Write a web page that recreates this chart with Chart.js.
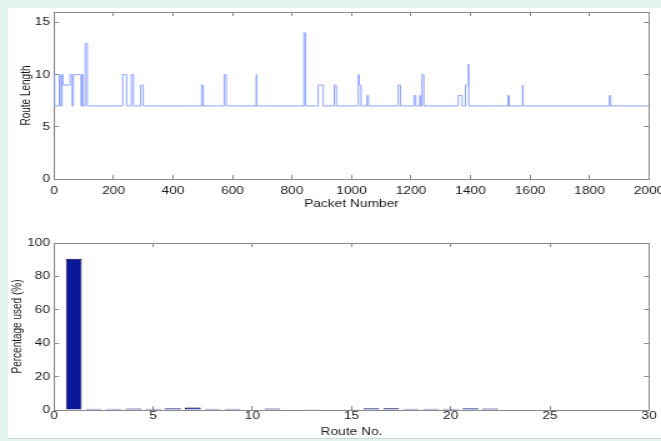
<!DOCTYPE html>
<html>
<head>
<meta charset="utf-8">
<script src="https://cdn.jsdelivr.net/npm/chart.js@4"></script>
<style>
    html, body { margin: 0; padding: 0; }
    body { width: 661px; height: 441px; background: #e2f5ef; position: relative; overflow: hidden; }
    #panel { position: absolute; left: 8px; top: 8px; width: 653px; height: 430px; background: #fff; border-bottom: 1px solid #d4d4d4; }
    canvas { position: absolute; left: 0; }
    #routes { top: 0; }
    #usage { top: 220px; }
</style>
</head>
<body>
<div id="panel"></div>
<!-- canvases are drawn narrower and stretched sideways, like the original figure -->
<canvas id="routes" width="529" height="220" style="width:661px;height:220px"></canvas>
<canvas id="usage" width="529" height="221" style="width:661px;height:221px"></canvas>
<script>
// route length as steps: packet number where a run starts, and the length for that run
const stepPackets = [0, 2, 18, 21, 27, 30, 54, 61, 65, 91,
    94, 97, 105, 112, 231, 244, 260, 267, 291, 300,
    496, 502, 572, 579, 680, 681, 840, 846, 888, 905,
    942, 949, 1023, 1026, 1032, 1052, 1057, 1157, 1165, 1210,
    1216, 1230, 1231, 1237, 1243, 1359, 1372, 1383, 1393, 1394,
    1526, 1530, 1575, 1576, 1867, 1871, 2000]
const stepLengths = [10, 7, 10, 7, 10, 9, 10, 7, 10, 7,
    10, 7, 13, 7, 10, 7, 10, 7, 9, 7,
    9, 7, 10, 7, 10, 7, 14, 7, 9, 7,
    9, 7, 10, 9, 7, 8, 7, 9, 7, 8,
    7, 8, 7, 10, 7, 8, 7, 9, 11, 7,
    8, 7, 9, 7, 8, 7, 7]

// percentage of packets on each route
const routeNos = [1, 2, 3, 4, 5, 6, 7, 8, 9, 10, 11, 12, 13, 14, 15, 16, 17, 18, 19, 20, 21, 22]
const routeUsage = [90.5, 0.8, 0.8, 0.9, 0.8, 1.1, 1.5, 0.8, 0.8, 0, 0.9, 0, 0.4, 0, 0.4, 1.1, 1, 0.8, 0.8, 0.8, 1.1, 0.9]

Chart.defaults.font.family = 'Arial, "Liberation Sans", Helvetica, sans-serif';
Chart.defaults.font.size = 11;
Chart.defaults.color = '#1a1a1a';
Chart.defaults.animation = false;

const axisGrey = '#8a8a8a';

// inward tick marks, no grid lines
const frameGrid = () => ({ drawOnChartArea: false, drawTicks: true, tickLength: -4, color: axisGrey, offset: false })

// plain numbers, no thousands separator
const plainLabel = value => String(value)

// pin an axis box to a fixed size so the plot area lands where the original's does
const fixedSize = (size, horizontal) => scale => {
    if (horizontal) scale.height = size
    else scale.width = size
    scale.paddingLeft = 0
    scale.paddingRight = 0
    scale.paddingTop = 0
    scale.paddingBottom = 0
}

function frameAxis(position, min, max, step, size) {
    return {
        type: 'linear',
        position: position,
        min: min,
        max: max,
        offset: false,
        ticks: { display: false, stepSize: step, includeBounds: false },
        grid: frameGrid(),
        border: { color: axisGrey },
        afterFit: fixedSize(size, position == 'top' || position == 'bottom')
    }
}

new Chart(document.getElementById('routes'), {
    type: 'line',
    data: {
        datasets: [{
            data: stepPackets.map((p, i) => ({ x: p, y: stepLengths[i] })),
            stepped: true,
            borderColor: '#8fa3ff',
            borderWidth: 1,
            pointRadius: 0,
            fill: false
        }]
    },
    options: {
        responsive: false,
        layout: { padding: { left: 0, top: 12, right: 9.6, bottom: 0 } },
        plugins: { legend: { display: false }, tooltip: { enabled: false } },
        scales: {
            x: {
                type: 'linear',
                position: 'bottom',
                min: 0,
                max: 2000,
                ticks: { stepSize: 200, padding: 9.4, maxRotation: 0, autoSkip: false, callback: plainLabel },
                grid: frameGrid(),
                border: { color: axisGrey },
                title: { display: true, text: 'Packet Number', font: { size: 11 }, padding: { top: 0, bottom: 9.4 } },
                afterFit: fixedSize(41, true)
            },
            y: {
                type: 'linear',
                position: 'left',
                min: 0,
                max: 16,
                ticks: { stepSize: 5, includeBounds: false, padding: 7.2, callback: plainLabel },
                grid: frameGrid(),
                border: { color: axisGrey },
                title: { display: true, text: 'Route Length', font: { size: 10 }, padding: { top: 15, bottom: 0 } },
                afterFit: fixedSize(43.2, false)
            },
            xTop: frameAxis('top', 0, 2000, 200, 0),
            yRight: frameAxis('right', 0, 16, 5, 0)
        }
    }
});

new Chart(document.getElementById('usage'), {
    type: 'bar',
    data: {
        datasets: [{
            data: routeNos.map((r, i) => ({ x: r, y: routeUsage[i] })),
            backgroundColor: '#0b1896',
            borderColor: '#000058',
            borderWidth: 1,
            barPercentage: 0.8,
            categoryPercentage: 1
        }]
    },
    options: {
        responsive: false,
        layout: { padding: { left: 0, top: 23, right: 9.6, bottom: 0 } },
        plugins: { legend: { display: false }, tooltip: { enabled: false } },
        scales: {
            x: {
                type: 'linear',
                position: 'bottom',
                min: 0,
                max: 30,
                offset: false,
                ticks: { stepSize: 5, padding: 3.4, maxRotation: 0, autoSkip: false, callback: plainLabel },
                grid: frameGrid(),
                border: { color: axisGrey },
                title: { display: true, text: 'Route No.', font: { size: 11 }, padding: { top: 0, bottom: 2.4 } },
                afterFit: fixedSize(31, true)
            },
            y: {
                type: 'linear',
                position: 'left',
                min: 0,
                max: 100,
                ticks: { stepSize: 20, padding: 7.2, callback: plainLabel },
                grid: frameGrid(),
                border: { color: axisGrey },
                title: { display: true, text: 'Percentage used (%)', font: { size: 10 }, padding: { top: 8.4, bottom: 0 } },
                afterFit: fixedSize(43.2, false)
            },
            xTop: frameAxis('top', 0, 30, 5, 0),
            yRight: frameAxis('right', 0, 100, 20, 0)
        }
    }
});
</script>
</body>
</html>
